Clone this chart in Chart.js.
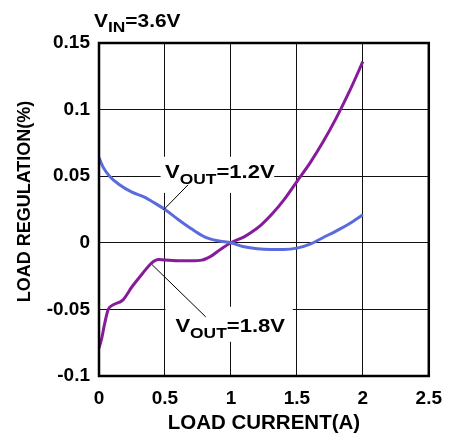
<!DOCTYPE html>
<html>
<head>
<meta charset="utf-8">
<script src="https://cdn.jsdelivr.net/npm/chart.js@4"></script>
<style>
  html, body { margin: 0; padding: 0; background: #fff; }
</style>
</head>
<body>
<canvas id="myChart" width="453" height="442"></canvas>
<script>
  // Load regulation vs load current, VIN = 3.6V
  const current12 = [0, 0.03, 0.08, 0.15, 0.25, 0.34, 0.42, 0.5, 0.6, 0.7, 0.8, 0.9, 1.0,
    1.1, 1.2, 1.3, 1.4, 1.5, 1.6, 1.7, 1.8, 1.9, 2.0];
  const reg12 = [0.064, 0.057, 0.05, 0.044, 0.038, 0.0345, 0.03, 0.025, 0.0175, 0.0105, 0.0045, 0.0015, 0,
    -0.003, -0.0045, -0.005, -0.005, -0.004, -0.001, 0.004, 0.009, 0.0145, 0.021];

  const current18 = [0, 0.02, 0.04, 0.07, 0.1, 0.18, 0.25, 0.33, 0.4, 0.45, 0.5, 0.6, 0.7, 0.78, 0.85, 0.92, 1.0,
    1.1, 1.15, 1.23, 1.32, 1.4, 1.5, 1.6, 1.7, 1.8, 1.9, 2.0];
  const reg18 = [-0.079, -0.072, -0.062, -0.05, -0.047, -0.043, -0.033, -0.023, -0.015, -0.0125, -0.013, -0.0135, -0.0135, -0.013, -0.01, -0.005, 0,
    0.0045, 0.0075, 0.0135, 0.0225, 0.032, 0.046, 0.06, 0.076, 0.094, 0.114, 0.136];

  const xTicks = [0, 0.5, 1, 1.5, 2, 2.5];
  const xTickLabels = ["0", "0.5", "1", "1.5", "2", "2.5"];
  const yTicks = [-0.1, -0.05, 0, 0.05, 0.1, 0.15];
  const yTickLabels = ["-0.1", "-0.05", "0", "0.05", "0.1", "0.15"];

  const FONT = "'Liberation Sans', Arial, sans-serif";

  function pairs(xs, ys) {
    return xs.map((x, i) => ({ x: x, y: ys[i] }));
  }

  // text with a subscript part, a bit wider than normal like the original
  function drawSubText(ctx, parts, x, y, size, subSize, drop, stretch) {
    ctx.save();
    ctx.translate(x, y);
    ctx.scale(stretch, 1);
    ctx.fillStyle = "#000";
    ctx.textBaseline = "alphabetic";
    ctx.textAlign = "left";
    let cx = 0;
    parts.forEach((p) => {
      ctx.font = "bold " + (p.sub ? subSize : size) + "px " + FONT;
      ctx.fillText(p.text, cx, p.sub ? drop : 0);
      cx += ctx.measureText(p.text).width;
    });
    ctx.restore();
  }

  // label boxes, text anchor and leader line, all in data units
  const curveLabels = [
    {
      parts: [{ text: "V" }, { text: "OUT", sub: true }, { text: "=1.2V" }],
      box: [0.467, 1.328, 0.0646, 0.0375],
      at: [0.5, 0.0488],
      leader: [0.675, 0.0435, 0.49, 0.0248],
    },
    {
      parts: [{ text: "V" }, { text: "OUT", sub: true }, { text: "=1.8V" }],
      box: [0.504, 1.469, -0.048, -0.0743],
      at: [0.579, -0.0668],
      leader: [0.809, -0.0556, 0.4, -0.0162],
    },
  ];

  const annotations = {
    id: "annotations",
    beforeDatasetsDraw(chart) {
      const { ctx, scales: { x, y } } = chart;
      ctx.save();
      ctx.fillStyle = "#fff";
      curveLabels.forEach((l) => {
        const x0 = x.getPixelForValue(l.box[0]);
        const x1 = x.getPixelForValue(l.box[1]);
        const y0 = y.getPixelForValue(l.box[2]);
        const y1 = y.getPixelForValue(l.box[3]);
        ctx.fillRect(x0, y0, x1 - x0, y1 - y0);
      });
      ctx.restore();
    },
    afterDatasetsDraw(chart) {
      const { ctx, chartArea: a, scales: { x, y } } = chart;
      ctx.save();
      ctx.strokeStyle = "#000";
      ctx.lineWidth = 1;
      curveLabels.forEach((l) => {
        ctx.beginPath();
        ctx.moveTo(x.getPixelForValue(l.leader[0]), y.getPixelForValue(l.leader[1]));
        ctx.lineTo(x.getPixelForValue(l.leader[2]), y.getPixelForValue(l.leader[3]));
        ctx.stroke();
        drawSubText(ctx, l.parts, x.getPixelForValue(l.at[0]), y.getPixelForValue(l.at[1]), 19, 15, 6, 1.16);
      });
      // plot frame
      ctx.lineWidth = 2.5;
      ctx.strokeRect(a.left, a.top, a.right - a.left, a.bottom - a.top);

      // y axis title, sitting a little above the plot centre as in the original
      ctx.translate(25, (a.top + a.bottom) / 2 - 8);
      ctx.rotate(-Math.PI / 2);
      ctx.font = "bold 18px " + FONT;
      ctx.fillStyle = "#000";
      ctx.textAlign = "center";
      ctx.textBaseline = "middle";
      ctx.fillText("LOAD REGULATION(%)", 0, 0);
      ctx.restore();

      drawSubText(ctx, [{ text: "V" }, { text: "IN", sub: true }, { text: "=3.6V" }],
        a.left - 5, a.top - 16, 18, 15, 5, 1.16);
    },
  };

  const ctx = document.getElementById("myChart").getContext("2d");
  const myChart = new Chart(ctx, {
    type: "scatter",
    data: {
      datasets: [
        {
          label: "VOUT=1.2V",
          data: pairs(current12, reg12),
          showLine: true,
          borderColor: "#5a6cdc",
          borderWidth: 3,
          pointRadius: 0,
          cubicInterpolationMode: "monotone",
        },
        {
          label: "VOUT=1.8V",
          data: pairs(current18, reg18),
          showLine: true,
          borderColor: "#861c9a",
          borderWidth: 3,
          pointRadius: 0,
          cubicInterpolationMode: "monotone",
        },
      ],
    },
    options: {
      responsive: false,
      animation: false,
      layout: { padding: { left: 0, right: 17, top: 43, bottom: 0 } },
      plugins: { legend: { display: false }, tooltip: { enabled: false } },
      scales: {
        x: {
          type: "linear",
          min: 0,
          max: 2.5,
          afterFit: (s) => { s.height = 66; },
          afterBuildTicks: (s) => { s.ticks = xTicks.map((v) => ({ value: v })); },
          grid: { color: "#111", lineWidth: 1, drawTicks: false },
          border: { display: false },
          ticks: {
            padding: 11,
            color: "#000",
            font: { family: FONT, size: 19, weight: "bold" },
            callback: (v, i) => xTickLabels[i],
          },
          title: {
            display: true,
            text: "LOAD CURRENT(A)",
            color: "#000",
            font: { family: FONT, size: 20.5, weight: "bold" },
            padding: { top: 0, bottom: 6 },
          },
        },
        y: {
          type: "linear",
          min: -0.1,
          max: 0.15,
          afterFit: (s) => { s.width = 99; },
          afterBuildTicks: (s) => { s.ticks = yTicks.map((v) => ({ value: v })); },
          grid: { color: "#111", lineWidth: 1, drawTicks: false },
          border: { display: false },
          ticks: {
            padding: 9,
            color: "#000",
            font: { family: FONT, size: 19, weight: "bold" },
            callback: (v, i) => yTickLabels[i],
          },
          title: { display: false },
        },
      },
    },
    plugins: [annotations],
  });
</script>
</body>
</html>
